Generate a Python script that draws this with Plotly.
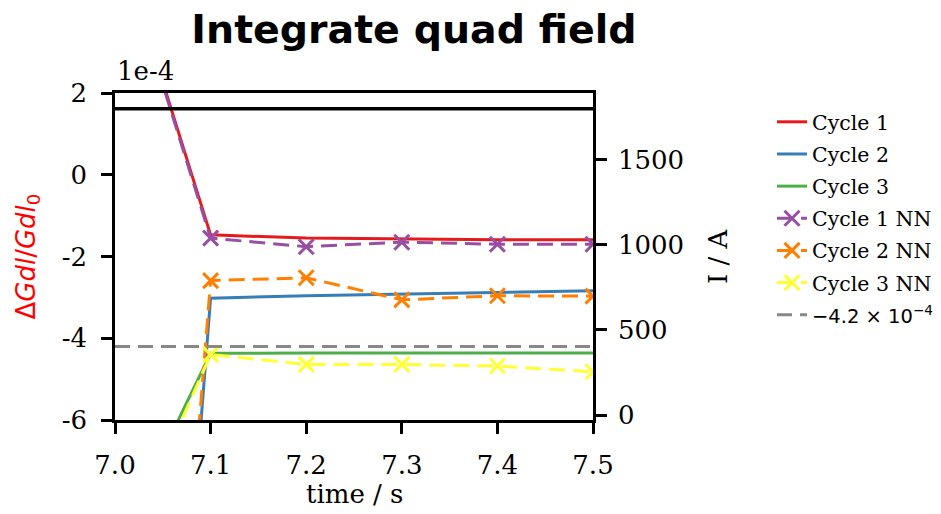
import plotly.graph_objects as go

# ---- data (left axis values in units of 1e-4) ----
time = [7.0, 7.1, 7.2, 7.3, 7.4, 7.5]
cycle1 = [6.0, -1.47, -1.55, -1.57, -1.59, -1.59]
cycle2 = [-33.0, -3.02, -2.96, -2.92, -2.88, -2.84]
cycle3 = [-9.2, -4.37, -4.36, -4.36, -4.36, -4.36]
cycle1_nn = [5.95, -1.55, -1.76, -1.65, -1.70, -1.70]
cycle2_nn = [-32.0, -2.59, -2.52, -3.06, -2.96, -2.97]
cycle3_nn = [-9.7, -4.40, -4.64, -4.64, -4.68, -4.82]
threshold = [-4.2, -4.2, -4.2, -4.2, -4.2, -4.2]
current = [1800, 1800, 1800, 1800, 1800, 1800]

left_ticks = [2, 0, -2, -4, -6]
left_ticktext = ["2", "0", "-2", "-4", "-6"]
right_ticks = [0, 500, 1000, 1500]
x_ticks = [7.0, 7.1, 7.2, 7.3, 7.4, 7.5]

SERIF = "DejaVu Serif"
FS = 26
dash = "16px,8px"
W, H = 941, 514

fig = go.Figure()

def solid(y, name, color):
    fig.add_trace(go.Scatter(x=time, y=y, name=name, mode="lines",
                             line=dict(color=color, width=3), legendgroup=name))

def nn(y, name, color):
    fig.add_trace(go.Scatter(x=time, y=y, name=name, mode="lines+markers",
                             line=dict(color=color, width=3, dash=dash),
                             marker=dict(symbol="x-thin", size=15, color=color,
                                         line=dict(color=color, width=3)),
                             legendgroup=name))

solid(cycle1, "Cycle 1", "#e41a1c")
solid(cycle2, "Cycle 2", "#377eb8")
solid(cycle3, "Cycle 3", "#4daf4a")
nn(cycle1_nn, "Cycle 1 NN", "#984ea3")
nn(cycle2_nn, "Cycle 2 NN", "#ff7f00")
nn(cycle3_nn, "Cycle 3 NN", "#ffff33")
fig.add_trace(go.Scatter(x=time, y=threshold, mode="lines",
                         name='<span style="font-family:DejaVu Sans;font-size:19.5px">−4.2 × 10<sup>−4</sup></span>',
                         line=dict(color="#888888", width=3, dash="15px,8px"),
                         legendgroup="thr"))
fig.add_trace(go.Scatter(x=time, y=current, mode="lines", yaxis="y2",
                         line=dict(color="black", width=3.5), showlegend=False))

axis_common = dict(showline=True, linecolor="black", linewidth=2.5, ticks="outside",
                   ticklen=11, tickwidth=2.5, tickcolor="black", showgrid=False,
                   zeroline=False, automargin=False,
                   tickfont=dict(family=SERIF, size=FS, color="black"))

fig.update_layout(
    template="none",
    width=W, height=H,
    margin=dict(l=107, r=356, t=85, b=102),
    paper_bgcolor="white", plot_bgcolor="white",
    title=dict(text="<b>Integrate quad field</b>", x=406/W, xanchor="center",
               xref="container", y=1-21/H, yref="container", yanchor="middle",
               font=dict(family="DejaVu Sans", size=39.5, color="black")),
    xaxis=dict(range=[7.0, 7.5], tickvals=x_ticks, tickformat=".1f", mirror=True,
               ticklabelstandoff=9, **axis_common),
    yaxis=dict(range=[-6, 2], tickvals=left_ticks, ticktext=left_ticktext,
               ticklabelstandoff=9, **axis_common),
    yaxis2=dict(range=[-29, 1892], tickvals=right_ticks, overlaying="y", side="right",
                ticklabelstandoff=6, **axis_common),
    legend=dict(x=764/W, y=1-94/H, xref="container", yref="container",
                xanchor="left", yanchor="top",
                font=dict(family=SERIF, size=20.5, color="black"),
                tracegroupgap=2.5, bgcolor="rgba(0,0,0,0)"),
    showlegend=True,
    annotations=[
        dict(text="1e-4", xref="paper", yref="paper", x=0, y=1,
             xanchor="left", yanchor="bottom", showarrow=False, yshift=5,
             font=dict(family=SERIF, size=FS, color="black")),
        dict(text="time / s", xref="paper", yref="paper", x=0.5, y=0,
             xanchor="center", yanchor="middle", showarrow=False, yshift=-74,
             font=dict(family=SERIF, size=FS, color="black")),
        dict(text='Δ<i>Gdl</i>/<i>Gdl</i><sub>0</sub>', xref="paper", yref="paper",
             x=0, y=0.5, xanchor="center", yanchor="middle", xshift=-88,
             textangle=-90, showarrow=False,
             font=dict(family="DejaVu Sans", size=FS, color="red")),
        dict(text="I / A", xref="paper", yref="paper", x=1, y=0.5,
             xanchor="center", yanchor="middle", xshift=124.5,
             textangle=-90, showarrow=False,
             font=dict(family=SERIF, size=FS, color="black")),
    ],
)

fig.write_html("out.html")
